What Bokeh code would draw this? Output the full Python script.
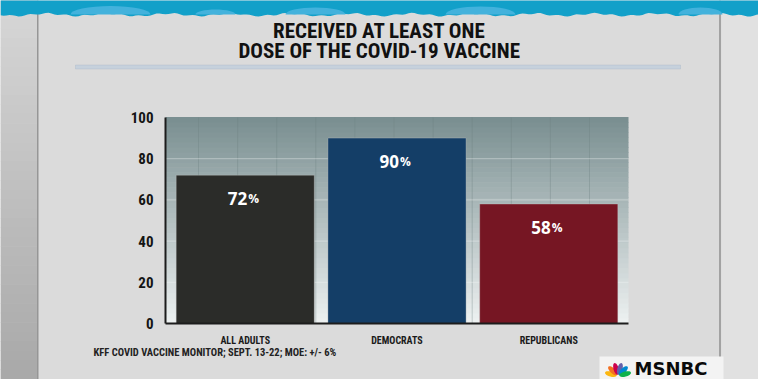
import math
from bokeh.plotting import figure
from bokeh.models import (Range1d, FixedTicker, Label, BoxAnnotation, PolyAnnotation,
                          ColumnDataSource, LinearAxis)
from bokeh.core.properties import value
from bokeh.embed import file_html
from bokeh.resources import INLINE

# ---------------- data ----------------
categories = ["ALL ADULTS", "DEMOCRATS", "REPUBLICANS"]
values = [72, 90, 58]
value_labels = ["72", "90", "58"]
bar_colors = ["#2b2c29", "#143e67", "#761623"]
y_ticks = [0, 20, 40, 60, 80, 100]
title_lines = ["RECEIVED AT LEAST ONE", "DOSE OF THE COVID-19 VACCINE"]
source_note = "KFF COVID VACCINE MONITOR; SEPT. 13-22; MOE: +/- 6%"
brand = "MSNBC"

# ---------------- layout (canvas px) ----------------
W, H = 758, 379
FL, FR, FT, FB = 165, 628, 117, 323   # plot area edges
FW, FH = FR - FL, FB - FT
PAD = 0.051                           # category padding (category units)
n_cat = len(categories)
unit = FW / (n_cat + PAD)             # px per category
ppu = FH / (y_ticks[-1] - y_ticks[0]) # px per value unit
x_left = -0.5 - PAD / 2               # data x of plot-area left edge
x_right = x_left + FW / unit
x_start = x_left - FL / unit
x_end = x_start + W / unit
y_start = y_ticks[0] - (H - FB) / ppu
y_end = y_ticks[-1] + FT / ppu

COND = "'Roboto Condensed', 'Liberation Sans Narrow', 'DejaVu Sans Condensed', 'Roboto', sans-serif"


def sx(cx):
    return cx


def sy(cy):
    return H - cy


p = figure(width=W, height=H, x_range=Range1d(x_start, x_end), y_range=Range1d(y_start, y_end),
           output_backend="svg", toolbar_location=None,
           x_axis_location=None, y_axis_location=None,
           min_border=0, min_border_left=0, min_border_right=0,
           min_border_top=0, min_border_bottom=0)
p.background_fill_color = "#dbdbdb"
p.border_fill_color = "#dbdbdb"
p.outline_line_color = None
p.grid.visible = False


def box(l, r, t, b, color, level="image", line_color=None, line_width=0, alpha=1.0):
    p.add_layout(BoxAnnotation(left=sx(l), right=sx(r), top=sy(t), bottom=sy(b),
                               left_units="screen", right_units="screen",
                               top_units="screen", bottom_units="screen",
                               fill_color=color, fill_alpha=alpha,
                               line_color=line_color, line_width=line_width, level=level))


def poly(pts, color, level="image"):
    p.add_layout(PolyAnnotation(xs=[sx(a) for a, _ in pts], ys=[sy(b) for _, b in pts],
                                xs_units="screen", ys_units="screen",
                                fill_color=color, fill_alpha=1.0, line_color=None, level=level))


def mix(c1, c2, t):
    return "#%02x%02x%02x" % tuple(round(c1[k] + (c2[k] - c1[k]) * t) for k in range(3))


# side strips (vertical gradient on the left) and panel edges
ns = 40
for i in range(ns):
    box(0, 37, H * i / ns - 0.5, H * (i + 1) / ns, mix((0xd6, 0xd6, 0xd6), (0xa9, 0xa9, 0xa9), i / (ns - 1)))
box(721, W, 0, H, "#e1e1e1")
box(36.5, 38.0, 0, H, "#969696")
box(718.5, 720.5, 0, H, "#a2a2a2")

# plot-area gradient
n = 41
for i in range(n):
    b0 = FB - FH * i / n
    t0 = FB - FH * (i + 1) / n - 0.6
    box(FL, FR, t0, b0, mix((0xec, 0xf0, 0xf0), (0x7a, 0x8f, 0x91), i / (n - 1)))

# vertical grid texture
for k in range(11):
    gx = 198 + 39.1 * k
    box(gx - 0.5, gx + 0.5, FT, FB, "#6c8082", alpha=0.35, level="underlay")

# horizontal grid lines at the inner ticks
for tk in y_ticks[1:-1]:
    p.add_layout(BoxAnnotation(left=FL, right=FR, left_units="screen", right_units="screen",
                               bottom=tk - 0.3, top=tk + 0.3, fill_color="#ffffff", fill_alpha=0.28,
                               line_color=None, level="underlay"))

# top teal band with ragged edge
edge = []
xx = 0.0
while xx <= W + 6:
    edge.append((xx, 14.2 + 1.2 * math.sin(xx / 9.7) + 0.7 * math.sin(xx / 2.9 + 1.0)))
    xx += 3
poly([(0, -2), (W + 6, -2)] + edge[::-1], "#12a0c9")
for c0, half, peak in [(110, 40, 5.5), (215, 20, 9), (315, 30, 7), (480, 35, 6), (700, 22, 7)]:
    arc = [(c0 + half * math.cos(a * math.pi / 16), 14.0 - (14.0 - peak) * math.sin(a * math.pi / 16))
           for a in range(17)]
    poly(arc, "#43b2dc")

# horizontal rule under title
box(75, 680, 64.5, 68.5, "#c6d1dc", line_color="#9fb1c4", line_width=1)

# logo box + peacock
box(599, 723, 356, H + 2, "#f3f3f3")
feathers = ["#fcb711", "#f37021", "#cc004c", "#6460aa", "#0089d0", "#0db14b"]
cx0, cy0 = 617.5, 375.5
for k, col in enumerate(feathers):
    th = math.radians(180 - (k + 0.5) * 30)
    ux, uy = math.cos(th), math.sin(th)
    pts = []
    for j in range(20):
        a = 2 * math.pi * j / 20
        u = 7.4 + 6.0 * math.cos(a)
        v = 2.6 * math.sin(a)
        pts.append((cx0 + u * ux - v * uy, cy0 - (u * uy + v * ux)))
    poly(pts, col, level="annotation")

# ---------------- bars ----------------
xs = list(range(n_cat))
src = ColumnDataSource(dict(x=xs, cat=categories, val=values, lab=value_labels,
                            pct=["%"] * n_cat, color=bar_colors))
p.vbar(x="x", top="val", width=0.91, bottom=0, source=src, fill_color="color",
       line_color="#c9c9c9", line_alpha=0.35, line_width=1)
p.text(x="x", y="val", text="lab", source=src, text_align="right", text_baseline="alphabetic",
       x_offset=2, y_offset=23, text_color="white", text_font=value("Open Sans"),
       text_font_style="bold", text_font_size="17px")
p.text(x="x", y="val", text="pct", source=src, text_align="left", text_baseline="alphabetic",
       x_offset=3, y_offset=23, text_color="white", text_font=value("Open Sans"),
       text_font_style="bold", text_font_size="12px")

# ---------------- axes ----------------
yax = LinearAxis(fixed_location=x_left, bounds=(y_ticks[0], y_ticks[-1]),
                 ticker=FixedTicker(ticks=y_ticks))
yax.axis_line_color = "#1c1c1c"
yax.axis_line_width = 2
yax.major_tick_line_color = None
yax.minor_tick_line_color = None
yax.major_label_standoff = 6
yax.major_label_text_font = COND
yax.major_label_text_font_style = "bold"
yax.major_label_text_font_size = "15px"
yax.major_label_text_color = "#141414"
p.add_layout(yax, "left")

xax = LinearAxis(fixed_location=y_ticks[0], bounds=(x_left, x_right),
                 ticker=FixedTicker(ticks=xs),
                 major_label_overrides={i: c for i, c in enumerate(categories)})
xax.axis_line_color = "#1c1c1c"
xax.axis_line_width = 2
xax.major_tick_line_color = None
xax.minor_tick_line_color = None
xax.major_label_standoff = 5
xax.major_label_text_font = COND
xax.major_label_text_font_style = "bold"
xax.major_label_text_font_size = "10px"
xax.major_label_text_color = "#1a1a1a"
p.add_layout(xax, "below")

# ---------------- texts ----------------
for line, base in zip(title_lines, [30.5, 50.0]):
    p.add_layout(Label(x=sx(379), y=sy(base), x_units="screen", y_units="screen", text=line,
                       text_align="center", text_baseline="alphabetic", text_font=COND,
                       text_font_style="bold", text_font_size="21px", text_color="#111111"))

p.add_layout(Label(x=sx(93), y=sy(351.5), x_units="screen", y_units="screen", text=source_note,
                   text_align="left", text_baseline="alphabetic", text_font=COND,
                   text_font_style="bold", text_font_size="10.5px", text_color="#222222"))

p.add_layout(Label(x=sx(634), y=sy(368), x_units="screen", y_units="screen", text=brand,
                   text_align="left", text_baseline="alphabetic", text_font="DejaVu Sans",
                   text_font_style="bold", text_font_size="18px", text_color="#0a0a0a"))

open("out.html", "w").write(file_html(p, INLINE))
